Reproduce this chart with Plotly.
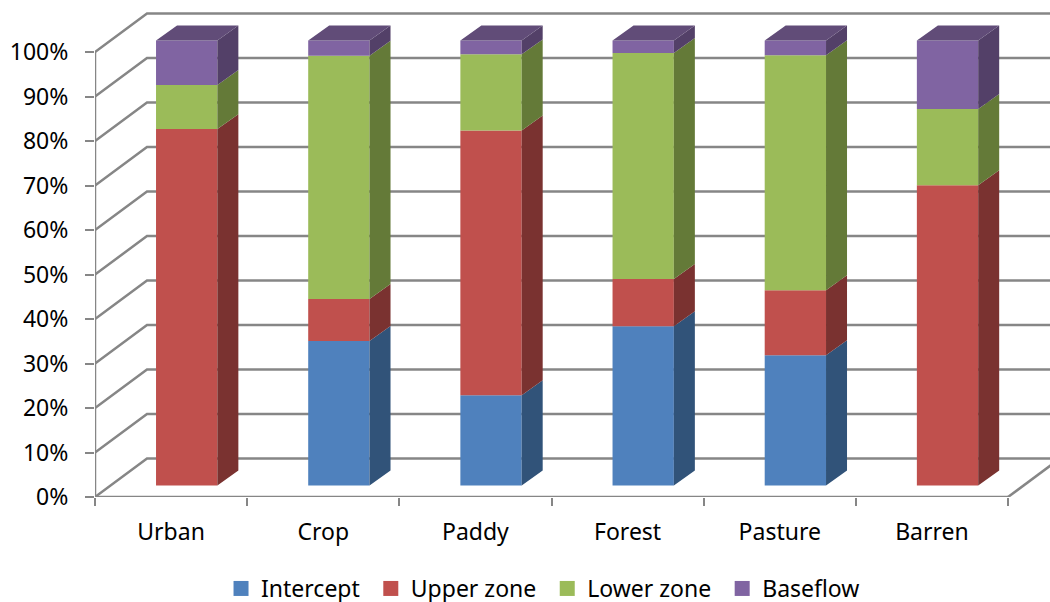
import plotly.graph_objects as go

categories = ["Urban", "Crop", "Paddy", "Forest", "Pasture", "Barren"]
intercept = [0, 32.5, 20.3, 35.8, 29.3, 0]
upper_zone = [80.1, 9.4, 59.5, 10.6, 14.6, 67.5]
lower_zone = [9.9, 54.7, 17.1, 50.8, 52.8, 17.1]
baseflow = [10.0, 3.4, 3.1, 2.8, 3.3, 15.4]
y_ticks = list(range(0, 101, 10))

series = [
    ("Intercept", intercept, "#4F81BD", "#315379"),
    ("Upper zone", upper_zone, "#C0504D", "#7A3230"),
    ("Lower zone", lower_zone, "#9BBB59", "#647A38"),
    ("Baseflow", baseflow, "#8064A2", "#534068"),
]
TOP_SHADE = "#614C78"

# Oblique projection of the floor, in axis units
WALL_DX, WALL_DY = 0.3417, 8.65
BAR_X, BAR_Y = 0.1026, 2.58
BAR_W = 0.403
BAR_DX, BAR_DY = 0.138, 3.37
GRID = "#868686"
FONT = "Noto Sans"
X_MAX = 5.776
Y_MAX = 111.7

fig = go.Figure()

# Back wall and floor lines, then the front axis lines
gx, gy = [], []
for t in y_ticks:
    gx += [-0.5, -0.5 + WALL_DX, 5.5 + WALL_DX, None]
    gy += [t, t + WALL_DY, t + WALL_DY, None]
gx += [5.5, 5.5 + WALL_DX, None, -0.5, 5.5, None, -0.5, -0.5]
gy += [0, WALL_DY, None, 0, 0, None, 0, 100]
fig.add_trace(go.Scatter(x=gx, y=gy, mode="lines", line=dict(color=GRID, width=2.5),
                         cliponaxis=False, showlegend=False, hoverinfo="skip"))

# Legend keys
for name, _, color, _ in series:
    fig.add_trace(go.Scatter(x=[None], y=[None], mode="markers", name=name + "\u00a0",
                             marker=dict(symbol="square", size=15, color=color)))

centers = [i + BAR_X for i in range(len(categories))]
stack = [BAR_Y] * len(categories)
for name, values, color, shade in series:
    # Front faces
    fig.add_trace(go.Bar(x=centers, y=values, base=list(stack), width=BAR_W,
                         marker=dict(color=color, line=dict(width=0)),
                         xaxis="x2", yaxis="y2", showlegend=False, name=name))
    # Right-hand side faces
    sx, sy = [], []
    for c, b, v in zip(centers, stack, values):
        if v <= 0:
            continue
        r = c + BAR_W / 2
        sx += [r, r + BAR_DX, r + BAR_DX, r, r, None]
        sy += [b, b + BAR_DY, b + v + BAR_DY, b + v, b, None]
    fig.add_trace(go.Scatter(x=sx, y=sy, mode="lines", fill="toself", fillcolor=shade,
                             line=dict(width=0), xaxis="x2", yaxis="y2",
                             showlegend=False, hoverinfo="skip"))
    stack = [b + v for b, v in zip(stack, values)]

# Top faces of the stacks
tx, ty = [], []
for c, top in zip(centers, stack):
    l, r = c - BAR_W / 2, c + BAR_W / 2
    tx += [l, r, r + BAR_DX, l + BAR_DX, l, None]
    ty += [top, top, top + BAR_DY, top + BAR_DY, top, None]
fig.add_trace(go.Scatter(x=tx, y=ty, mode="lines", fill="toself", fillcolor=TOP_SHADE,
                         line=dict(width=0), xaxis="x2", yaxis="y2",
                         showlegend=False, hoverinfo="skip"))

fig.update_layout(
    width=1050, height=602,
    margin=dict(l=95, r=0, t=0, b=105, autoexpand=False),
    paper_bgcolor="white", plot_bgcolor="rgba(0,0,0,0)",
    barmode="overlay",
    font=dict(family=FONT, size=23, color="#000000"),
    xaxis=dict(range=[-0.5, X_MAX], tickvals=list(range(len(categories))), ticktext=categories,
               ticks="", showgrid=False, zeroline=False, showline=False,
               ticklabelstandoff=19,
               minor=dict(tick0=-0.5, dtick=1, ticks="outside", ticklen=8, tickwidth=2,
                          tickcolor=GRID, showgrid=False)),
    yaxis=dict(range=[0, Y_MAX], tickvals=y_ticks, ticktext=[f"{t}%" for t in y_ticks],
               ticks="outside", ticklen=9, tickwidth=2, tickcolor=GRID,
               showgrid=False, zeroline=False, showline=False, ticklabelstandoff=12),
    xaxis2=dict(overlaying="x", matches="x", visible=False),
    yaxis2=dict(overlaying="y", matches="y", visible=False),
    legend=dict(orientation="h", x=0.2105, xref="container", xanchor="left",
                y=35 / 602, yref="container", yanchor="top",
                font=dict(size=23), itemclick=False, itemdoubleclick=False,
                bgcolor="rgba(0,0,0,0)"),
    showlegend=True,
)

fig.write_html("out.html")
